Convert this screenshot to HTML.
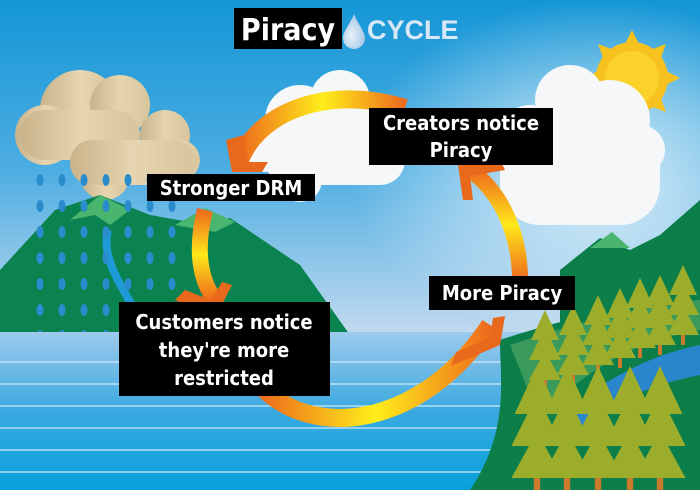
<!DOCTYPE html>
<html><head><meta charset="utf-8"><style>
html,body{margin:0;padding:0;width:700px;height:490px;overflow:hidden}
svg{display:block}
.lbl{font-family:"DejaVu Sans Condensed","Liberation Sans",sans-serif;font-weight:bold;fill:#fff}
</style></head><body>
<svg width="700" height="490" viewBox="0 0 700 490" xmlns="http://www.w3.org/2000/svg">
<defs>
<linearGradient id="sky" x1="0" y1="0" x2="0" y2="1">
<stop offset="0" stop-color="#1496d6"/><stop offset="0.35" stop-color="#4eaee2"/><stop offset="0.7" stop-color="#c9dcf0"/><stop offset="1" stop-color="#ecebf4"/>
</linearGradient>
<radialGradient id="glow" cx="0.85" cy="0.35" r="0.35"><stop offset="0" stop-color="#fff" stop-opacity="0.8"/><stop offset="1" stop-color="#fff" stop-opacity="0"/></radialGradient>
<linearGradient id="water" x1="0" y1="0" x2="0" y2="1"><stop offset="0" stop-color="#9ccaec"/><stop offset="0.5" stop-color="#3aa9e0"/><stop offset="1" stop-color="#08a0dc"/></linearGradient>
<linearGradient id="arr" x1="0" y1="0" x2="1" y2="0"><stop offset="0" stop-color="#ee6a1c"/><stop offset="0.5" stop-color="#ffee1a"/><stop offset="1" stop-color="#ee6a1c"/></linearGradient>
<linearGradient id="arrv" x1="0" y1="0" x2="0" y2="1"><stop offset="0" stop-color="#ee6a1c"/><stop offset="0.5" stop-color="#ffe81a"/><stop offset="1" stop-color="#ee6a1c"/></linearGradient>
<linearGradient id="cloudb" x1="0" y1="0" x2="1" y2="0"><stop offset="0" stop-color="#c9b38a"/><stop offset="0.5" stop-color="#e6d5b0"/><stop offset="1" stop-color="#d8c59c"/></linearGradient>
<radialGradient id="drop" cx="0.4" cy="0.6" r="0.6"><stop offset="0" stop-color="#e6f2fb"/><stop offset="1" stop-color="#a8c8e6"/></radialGradient>
<g id="t"><polygon points="0,-40 -14,-10 -6,-10 -16,10 -5,10 -16,30 16,30 5,10 16,10 6,-10 14,-10" fill="#9cad2c"/><rect x="-2" y="30" width="4" height="10" fill="#c97a2c"/></g>
<g id="r"><ellipse cx="40" cy="180" rx="3.5" ry="6"/><ellipse cx="62" cy="180" rx="3.5" ry="6"/><ellipse cx="84" cy="180" rx="3.5" ry="6"/><ellipse cx="106" cy="180" rx="3.5" ry="6"/><ellipse cx="128" cy="180" rx="3.5" ry="6"/><ellipse cx="150" cy="180" rx="3.5" ry="6"/><ellipse cx="172" cy="180" rx="3.5" ry="6"/></g>
</defs>
<rect width="700" height="490" fill="url(#sky)"/>
<rect width="700" height="490" fill="url(#glow)"/>
<g transform="translate(632,78)">
<circle r="36" fill="#f7c21e"/>
<g fill="#f5c21e"><polygon points="0,-48 8,-32 -8,-32"/><polygon points="0,48 8,32 -8,32"/><polygon points="-48,0 -32,8 -32,-8"/><polygon points="48,0 32,8 32,-8"/>
<polygon points="34,-34 18,-28 28,-18"/><polygon points="-34,-34 -18,-28 -28,-18"/><polygon points="34,34 18,28 28,18"/><polygon points="-34,34 -18,28 -28,18"/></g>
<circle r="27" fill="#fcd22a"/>
</g>
<g fill="#f5f7f9">
<circle cx="300" cy="120" r="35"/><circle cx="340" cy="100" r="30"/><circle cx="350" cy="135" r="40"/><circle cx="265" cy="150" r="22"/><circle cx="300" cy="180" r="22"/><rect x="265" y="130" width="140" height="55" rx="25"/>
<circle cx="570" cy="100" r="35"/><circle cx="610" cy="120" r="40"/><circle cx="530" cy="135" r="30"/><circle cx="640" cy="150" r="25"/><rect x="500" y="120" width="160" height="105" rx="40"/>
</g>
<g fill="url(#cloudb)">
<circle cx="80" cy="110" r="40"/><circle cx="120" cy="105" r="30"/><circle cx="45" cy="135" r="30"/><rect x="20" y="110" width="120" height="50" rx="25"/>
<circle cx="165" cy="135" r="25"/><circle cx="180" cy="160" r="20"/><circle cx="105" cy="175" r="25"/><rect x="70" y="140" width="125" height="45" rx="22"/>
</g>
<polygon points="0,320 0,270 55,210 100,195 150,215 190,222 230,218 300,265 350,335 0,335" fill="#0a8350"/>
<polygon points="70,220 100,195 130,210 110,225 95,215" fill="#4ab56e"/>
<polygon points="175,225 205,208 235,222 215,232" fill="#4ab56e"/>
<path d="M108,230 C100,260 125,290 140,320" stroke="#1e9ad8" stroke-width="8" fill="none"/>
<g fill="#2a8ccc">
<use href="#r"/><use href="#r" y="26"/><use href="#r" y="52"/><use href="#r" y="78"/><use href="#r" y="104"/><use href="#r" y="130"/><use href="#r" y="156"/>
</g>
<polygon points="560,270 600,238 630,250 660,235 700,200 700,400 560,400" fill="#0b7e4a"/>
<polygon points="590,248 612,232 630,248" fill="#4ab56e"/>
<rect x="0" y="332" width="700" height="158" fill="url(#water)"/>
<g stroke="#d6ecfa" stroke-width="1.5" opacity="0.8"><line x1="0" y1="362" x2="560" y2="362"/><line x1="0" y1="384" x2="560" y2="384"/><line x1="0" y1="406" x2="560" y2="406"/><line x1="0" y1="428" x2="540" y2="428"/><line x1="0" y1="450" x2="520" y2="450"/><line x1="0" y1="472" x2="500" y2="472"/></g>
<path d="M500,340 C560,320 640,300 700,300 L700,490 L470,490 C510,430 500,380 500,340Z" fill="#0b7e4a"/>
<path d="M510,345 C570,325 640,305 700,300 L700,330 C640,340 580,370 540,420 Z" fill="#3a9a5c"/>
<path d="M560,420 C600,380 650,355 700,345 L700,375 C650,385 610,400 580,440 Z" fill="#2a86cc"/>
<use href="#t" x="545" y="350"/><use href="#t" x="573" y="345"/><use href="#t" x="598" y="335"/><use href="#t" x="620" y="328"/><use href="#t" x="640" y="318"/><use href="#t" x="660" y="315"/><use href="#t" x="683" y="305"/>
<g transform="translate(537,430) scale(1.6)"><use href="#t"/></g><g transform="translate(567,430) scale(1.6)"><use href="#t"/></g><g transform="translate(598,430) scale(1.6)"><use href="#t"/></g><g transform="translate(630,430) scale(1.6)"><use href="#t"/></g><g transform="translate(660,430) scale(1.6)"><use href="#t"/></g>
<path d="M405,108 C330,85 260,110 240,160" stroke="url(#arr)" stroke-width="18" fill="none"/>
<polygon points="226,140 232,172 262,172 268,162 248,162 244,135" fill="#e8691c"/>
<path d="M205,210 C195,250 200,280 215,300" stroke="url(#arrv)" stroke-width="16" fill="none"/>
<polygon points="175,300 215,318 232,285 222,282 211,300 185,290" fill="#e8691c"/>
<path d="M260,385 C310,440 420,430 490,325" stroke="url(#arr)" stroke-width="18" fill="none"/>
<polygon points="451,366 500,345 505,316 493,318 490,338 456,352" fill="#e8691c"/>
<path d="M470,170 C505,195 520,240 520,280" stroke="url(#arrv)" stroke-width="16" fill="none"/>
<polygon points="458,165 463,200 473,200 470,176 505,170 500,160" fill="#e8691c"/>
<rect x="234" y="8" width="108" height="41" fill="#000"/>
<text x="288" y="40" text-anchor="middle" class="lbl" font-size="30">Piracy</text>
<path d="M354,14 C350,24 343,32 343,38 a11,11 0 0 0 22,0 C365,32 358,24 354,14Z" fill="url(#drop)"/>
<text x="367" y="39" font-family="Liberation Sans,sans-serif" font-weight="bold" font-size="27" fill="#d8e8f7">CYCLE</text>
<rect x="369" y="108" width="184" height="57" fill="#000"/>
<text x="461" y="130" text-anchor="middle" class="lbl" font-size="20">Creators notice</text>
<text x="461" y="157" text-anchor="middle" class="lbl" font-size="20">Piracy</text>
<rect x="147" y="174" width="168" height="27" fill="#000"/>
<text x="231" y="195" text-anchor="middle" class="lbl" font-size="20">Stronger DRM</text>
<rect x="119" y="302" width="211" height="94" fill="#000"/>
<text x="224" y="329" text-anchor="middle" class="lbl" font-size="20">Customers notice</text>
<text x="224" y="357" text-anchor="middle" class="lbl" font-size="20">they're more</text>
<text x="224" y="385" text-anchor="middle" class="lbl" font-size="20">restricted</text>
<rect x="429" y="276" width="146" height="34" fill="#000"/>
<text x="502" y="300" text-anchor="middle" class="lbl" font-size="20">More Piracy</text>
</svg>
</body></html>
